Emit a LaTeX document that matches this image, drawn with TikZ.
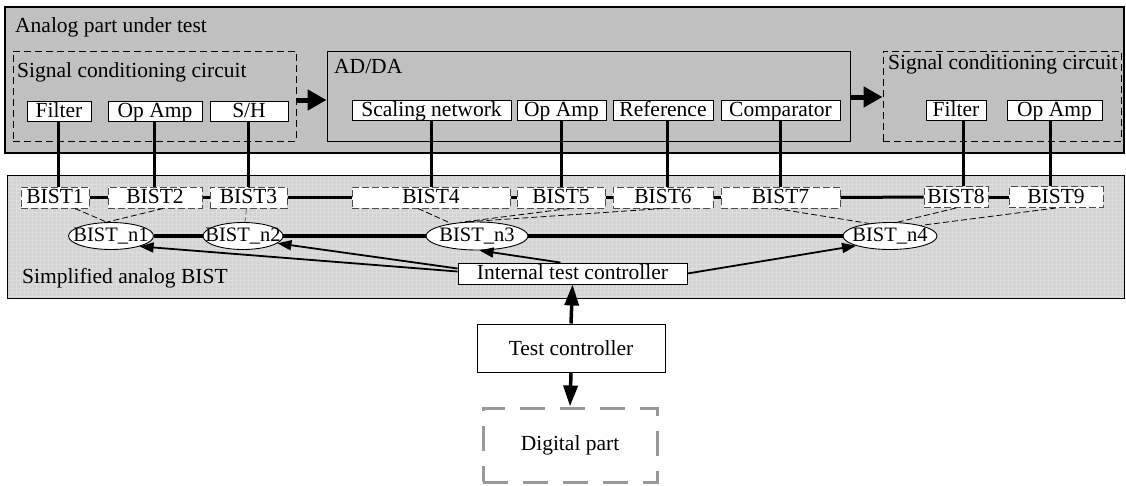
\documentclass[tikz,border=0pt]{standalone}
\usepackage{fontspec}
\setmainfont{Liberation Serif}
\usetikzlibrary{shapes.geometric,arrows.meta,calc}
\newcommand\fsA{\fontsize{21.5}{24}\selectfont}
\newcommand\fsB{\fontsize{20.5}{22}\selectfont}
\definecolor{topgray}{HTML}{C0C0C0}
\definecolor{botgray}{HTML}{D3D3D3}
\definecolor{gridgray}{HTML}{DDDDDD}
\tikzset{
  every node/.style={font=\fsA},
  container/.style={draw, line width=1.2pt, inner sep=0pt},
  subbox/.style={draw, line width=0.9pt, inner sep=0pt},
  dashbox/.style={draw, line width=0.9pt, dash pattern=on 7pt off 4pt, inner sep=0pt},
  comp/.style={draw, fill=white, line width=0.9pt, inner sep=0pt, text height=15pt, text depth=3pt, minimum height=20pt},
  bistbox/.style={draw=black!70, fill=white, line width=1pt, dash pattern=on 7pt off 3pt, inner sep=0pt, text height=15pt, text depth=3pt, minimum height=21pt},
  ell/.style={ellipse, draw, fill=white, line width=0.9pt, inner sep=0pt, minimum width=#1, minimum height=27pt, font=\fsB},
  label/.style={anchor=base west, inner sep=0pt},
  vline/.style={line width=3pt},
  hline/.style={line width=3pt},
  nline/.style={line width=3.5pt},
  dline/.style={line width=0.8pt, dash pattern=on 6pt off 3pt},
  thinarrow/.style={line width=1.8pt, -{Triangle[length=14pt,width=10pt]}},
  bigarrow/.style={line width=5pt, -{Triangle[length=19pt,width=20pt]}},
  midarrow/.style={line width=3.5pt, -{Triangle[length=21pt,width=14pt]}},
}
\begin{document}
\begin{tikzpicture}[x=1pt,y=-1pt]
\path[use as bounding box] (0,0) rectangle (1126,485);

% upper container
\node[container, fill=topgray, minimum width=1119pt, minimum height=146pt] (upper) at (564.5,80) {};
\node[label] (lblA) at (15,32) {Analog part under test};

% left signal conditioning
\node[dashbox, minimum width=283pt, minimum height=90pt] (SCL) at (154.5,96) {};
\node[label] (lblSCL) at (17,77) {Signal conditioning circuit};
% AD/DA
\node[subbox, minimum width=523pt, minimum height=90pt] (ADDA) at (588.5,96) {};
\node[label] (lblAD) at (334,73) {AD/DA};
% right signal conditioning
\node[dashbox, minimum width=238pt, minimum height=90pt] (SCR) at (1002,96) {};
\node[label] (lblSCR) at (888,69) {Signal conditioning circuit};

% components
\node[comp, minimum width=64pt] (F1) at (59,111) {Filter};
\node[comp, minimum width=94pt] (O1) at (155,111) {Op Amp};
\node[comp, minimum width=78pt] (SH) at (249,111) {S/H};
\node[comp, minimum width=159pt] (SN) at (431.5,110) {Scaling network};
\node[comp, minimum width=89pt] (O2) at (561.5,110) {Op Amp};
\node[comp, minimum width=100pt] (RF) at (663,110) {Reference};
\node[comp, minimum width=119pt] (CP) at (780.5,110) {Comparator};
\node[comp, minimum width=60pt] (F2) at (956,110.5) {Filter};
\node[comp, minimum width=95pt] (O3) at (1054.5,110.5) {Op Amp};

% arrows between blocks
\draw[bigarrow] ([yshift=-4pt]SCL.east) -- ([yshift=-4pt]ADDA.west);
\draw[bigarrow] ([yshift=-1pt]ADDA.east) -- ([yshift=-1pt]SCR.west);

% lower container with grid
\node[container, fill=botgray, draw=none, minimum width=1116pt, minimum height=122pt] (lower) at (566,237) {};
\foreach \i in {12,16,...,1120} \draw[gridgray, line width=0.5pt] (\i,176.5) -- (\i,297.5);
\foreach \j in {180,184,...,296} \draw[gridgray, line width=0.5pt] (8.5,\j) -- (1123.5,\j);
\draw[line width=1.2pt] (lower.north west) rectangle (lower.south east);
\node[label] (lblB) at (22,283) {Simplified analog BIST};

% BIST boxes
\node[bistbox, minimum width=68pt] (B1) at (55,197.5) {BIST1};
\node[bistbox, minimum width=94pt] (B2) at (155,197.5) {BIST2};
\node[bistbox, minimum width=77pt] (B3) at (248.5,197.5) {BIST3};
\node[bistbox, minimum width=158pt] (B4) at (431,197.5) {BIST4};
\node[bistbox, minimum width=88pt] (B5) at (561,197.5) {BIST5};
\node[bistbox, minimum width=100pt] (B6) at (663,197.5) {BIST6};
\node[bistbox, minimum width=119pt] (B7) at (780.5,197.5) {BIST7};
\node[bistbox, minimum width=64pt] (B8) at (956,197) {BIST8};
\node[bistbox, minimum width=94pt] (B9) at (1056,197) {BIST9};

% ellipses
\node[ell=85pt] (n1) at (111,236) {\makebox[0pt]{BIST\_n1}};
\node[ell=80pt] (n2) at (243,236) {\makebox[0pt]{BIST\_n2}};
\node[ell=102pt, minimum height=28pt] (n3) at (477,236) {\makebox[0pt]{BIST\_n3}};
\node[ell=94pt] (n4) at (890,236) {\makebox[0pt]{BIST\_n4}};

% vertical links components -> BIST
\draw[vline] ([xshift=-1pt]F1.south) -- ([xshift=-1pt]F1.south |- B1.north);
\draw[vline] ([xshift=-1pt]O1.south) -- ([xshift=-1pt]O1.south |- B2.north);
\draw[vline] ([xshift=-1pt]SH.south) -- ([xshift=-1pt]SH.south |- B3.north);
\draw[vline] (SN.south) -- (SN.south |- B4.north);
\draw[vline] (O2.south) -- (O2.south |- B5.north);
\draw[vline] ([xshift=4pt]RF.south) -- ([xshift=4pt]RF.south |- B6.north);
\draw[vline] (CP.south) -- (CP.south |- B7.north);
\draw[vline] ([xshift=7pt]F2.south) -- ([xshift=7pt]F2.south |- B8.north);
\draw[vline] ([xshift=-4pt]O3.south) -- ([xshift=-4pt]O3.south |- B9.north);

% horizontal BIST chain
\draw[hline] (B1.east) -- (B2.west);
\draw[hline] (B2.east) -- (B3.west);
\draw[hline] (B3.east) -- (B4.west);
\draw[hline] (B4.east) -- (B5.west);
\draw[hline] (B5.east) -- (B6.west);
\draw[hline] (B6.east) -- (B7.west);
\draw[hline] (B7.east) -- (B8.west);
\draw[hline] (B8.east) -- (B9.west);

% ellipse chain
\draw[nline] (n1.east) -- (n2.west);
\draw[nline] (n2.east) -- (n3.west);
\draw[nline] (n3.east) -- (n4.west);

% dashed links BIST -> BIST_n
\draw[dline] ([xshift=20pt]B1.south) -- (n1.107);
\draw[dline] ([xshift=8pt]B2.south) -- (n1.107);
\draw[dline, draw=black!60] ([xshift=-2pt]B3.south) -- (n2.82);
\draw[dline] ([xshift=-13pt]B4.south) -- (n3.154);
\draw[dline] ([xshift=8pt]B5.south) -- (n3.142);
\draw[dline] (B6.south) -- (n3.123);
\draw[dline] ([xshift=-5pt]B7.south) -- (n4.149);
\draw[dline] (B8.south) -- (n4.62);
\draw[dline] (B9.south) -- (n4.19);

% controllers
\node[comp, minimum width=229pt, minimum height=21pt] (ITC) at (572.5,273.5) {Internal test controller};
\node[draw, fill=white, line width=1pt, minimum width=188pt, minimum height=48pt, inner sep=0pt] (TC) at (571,348) {Test controller};
\node[draw=black!40, line width=3pt, dash pattern=on 25pt off 15pt, minimum width=174pt, minimum height=74pt, inner sep=0pt] (DP) at (570,445) {Digital part};

% arrows from internal test controller
\draw[thinarrow] ([yshift=2pt]ITC.west) -- (n1.-20);
\draw[thinarrow] ([yshift=5pt]ITC.west) -- (n2.-12);
\draw[thinarrow] ([xshift=-12pt]ITC.north) -- (n3.-80);
\draw[thinarrow] (ITC.east) -- (n4.196);

% test controller arrows
\draw[midarrow] (TC.north) -- (ITC.south);
\draw[midarrow] (TC.south) -- (DP.north);
\end{tikzpicture}
\end{document}
